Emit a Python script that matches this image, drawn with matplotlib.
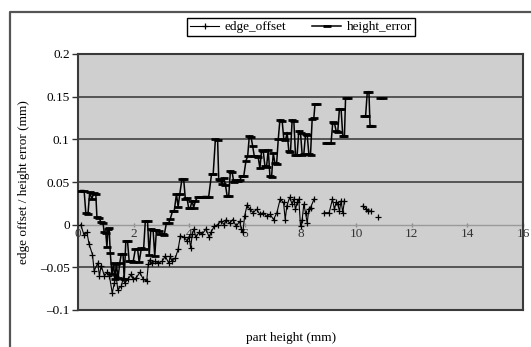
import numpy as np
import matplotlib
matplotlib.use("Agg")
import matplotlib.pyplot as plt
from matplotlib.lines import Line2D

plt.rcParams['font.family'] = ['Liberation Serif', 'DejaVu Serif']

nan = float('nan')

# ---------------- data ----------------
height_x = [0.10, 0.22, 0.28, 0.36, 0.42, 0.50, 0.56, 0.64, 0.68, 0.76, 0.82, 0.90, 0.94, 1.00,
            1.04, 1.08, 1.12, 1.16, 1.22, 1.28, 1.32, 1.38, 1.44, 1.50, 1.56, 1.62, 1.66, 1.72,
            1.78, 1.84, 1.92, 1.98, 2.06, 2.14, 2.20, 2.28, 2.36, 2.42, 2.50, 2.56, 2.62, 2.70,
            2.76, 2.82, 2.90, 2.96, 3.04, 3.10, 3.18, 3.26, 3.32, 3.40, 3.46, 3.54, 3.60, 3.66,
            3.74, 3.80, 3.86, 3.92, 3.98, 4.04, 4.10, 4.16, 4.22, 4.30, 4.40, 4.50, 4.60, 4.70,
            4.80, 4.86, 4.94, 5.02, 5.06, 5.12, 5.18, 5.24, 5.30, 5.36, 5.42, 5.48, 5.54, 5.60,
            5.66, 5.74, 5.82, 5.88, 5.96, 6.04, 6.10, 6.16, 6.22, 6.28, 6.34, 6.42, 6.48, 6.54,
            6.60, 6.66, 6.72, 6.78, 6.84, 6.90, 6.96, 7.02, 7.08, 7.14, 7.20, 7.26, 7.34, 7.40,
            7.46, 7.52, 7.58, 7.64, 7.70, 7.76, 7.82, 7.88, 7.94, 8.00, 8.06, 8.12, 8.18, 8.24,
            8.30, 8.36, 8.42, 8.48, 8.52, 8.60, 8.75,
            8.90, 9.00, 9.10, 9.16, 9.22, 9.28, 9.34, 9.40, 9.46, 9.52, 9.58, 9.62, 9.70, 10.0,
            10.28, 10.34, 10.40, 10.46, 10.50, 10.58, 10.70,
            10.86, 10.96]
height_error = [0.040, 0.040, 0.014, 0.013, 0.038, 0.030, 0.037, 0.036, 0.009, 0.008, 0.003, 0.002, -0.009, -0.010,
                -0.026, -0.005, -0.004, -0.033, -0.058, -0.045, -0.064, -0.046, -0.063, -0.045, -0.034, -0.034, -0.064, -0.019,
                -0.019, -0.043, -0.043, -0.044, -0.029, -0.028, -0.044, -0.027, -0.028, 0.004, 0.004, -0.036, -0.005, -0.006,
                -0.037, -0.006, -0.007, -0.011, -0.011, -0.012, 0.002, 0.002, 0.007, 0.016, 0.016, 0.036, 0.021, 0.036,
                0.054, 0.053, 0.030, 0.031, 0.019, 0.020, 0.028, 0.020, 0.028, 0.032, 0.032, 0.033, 0.033, 0.033,
                0.059, 0.059, 0.100, 0.099, 0.053, 0.052, 0.048, 0.055, 0.047, 0.034, 0.034, 0.063, 0.062, 0.050,
                0.052, 0.051, 0.052, 0.057, 0.057, 0.075, 0.080, 0.104, 0.103, 0.092, 0.080, 0.080, 0.079, 0.066,
                0.087, 0.086, 0.069, 0.068, 0.088, 0.057, 0.056, 0.084, 0.072, 0.071, 0.100, 0.123, 0.122, 0.100,
                0.099, 0.108, 0.086, 0.085, 0.123, 0.122, 0.082, 0.082, 0.110, 0.108, 0.082, 0.083, 0.106, 0.105,
                0.083, 0.082, 0.124, 0.125, 0.141, 0.141, nan,
                0.096, 0.096, 0.096, 0.120, 0.119, 0.110, 0.109, 0.136, 0.135, 0.104, 0.104, 0.148, 0.148, nan,
                0.127, 0.127, 0.155, 0.156, 0.116, 0.116, nan,
                0.148, 0.148]

edge_x = [0.10, 0.22, 0.32, 0.40, 0.52, 0.58, 0.71, 0.77, 0.83, 0.95, 1.05, 1.13, 1.23, 1.31, 1.37,
          1.43, 1.56, 1.62, 1.68, 1.80, 1.92, 1.98, 2.10, 2.22, 2.35, 2.47, 2.53, 2.59, 2.65, 2.77,
          2.89, 3.02, 3.14, 3.26, 3.32, 3.38, 3.50, 3.60, 3.68, 3.81, 3.93, 3.99, 4.05, 4.11, 4.17,
          4.23, 4.35, 4.47, 4.60, 4.72, 4.78, 4.90, 5.02, 5.14, 5.26, 5.33, 5.45, 5.57, 5.69, 5.81,
          5.87, 5.93, 5.99, 6.08, 6.18, 6.30, 6.42, 6.54, 6.66, 6.78, 6.91, 7.03, 7.15, 7.27, 7.39,
          7.45, 7.51, 7.61, 7.70, 7.76, 7.82, 7.88, 7.94, 8.00, 8.06, 8.12, 8.18, 8.24, 8.30, 8.36,
          8.49, 8.70,
          8.85, 9.03, 9.15, 9.22, 9.28, 9.34, 9.40, 9.46, 9.52, 9.58, 9.90,
          10.25, 10.37, 10.43, 10.55, 10.70,
          10.80]
edge_offset = [0.000, -0.0125, -0.009, -0.023, -0.035, -0.054, -0.045, -0.060, -0.048, -0.060, -0.056, -0.060, -0.080, -0.068, -0.060,
               -0.076, -0.072, -0.063, -0.068, -0.064, -0.058, -0.064, -0.062, -0.056, -0.064, -0.066, -0.046, -0.041, -0.045, -0.043,
               -0.045, -0.043, -0.037, -0.045, -0.037, -0.043, -0.039, -0.029, -0.013, -0.015, -0.019, -0.014, -0.027, -0.011, -0.005,
               -0.015, -0.009, -0.011, -0.005, -0.015, -0.009, -0.002, 0.000, 0.004, 0.000, 0.006, 0.002, 0.006, -0.002, 0.004,
               -0.005, -0.009, 0.010, 0.023, 0.018, 0.014, 0.018, 0.012, 0.014, 0.010, 0.012, 0.006, 0.014, 0.030, 0.026,
               0.006, 0.022, 0.032, 0.024, 0.030, 0.018, 0.026, 0.030, -0.002, 0.006, 0.024, 0.014, 0.002, 0.018, 0.020,
               0.030, nan,
               0.014, 0.014, 0.030, 0.018, 0.026, 0.024, 0.016, 0.028, 0.014, 0.028, nan,
               0.022, 0.018, 0.016, 0.016, nan,
               0.009]

x_ticks = [0, 2, 4, 6, 8, 10, 12, 14, 16]
x_tick_labels = ['0', '2', '4', '6', '8', '10', '12', '14', '16']
y_ticks = [-0.1, -0.05, 0, 0.05, 0.1, 0.15, 0.2]
y_tick_labels = ['\u20130.1', '\u20130.05', '0', '0.05', '0.1', '0.15', '0.2']
grid_levels = [-0.05, 0.05, 0.1, 0.15]

# ---------------- figure ----------------
W, H = 531, 347
fig = plt.figure(figsize=(W / 100, H / 100), dpi=100)
fig.patch.set_facecolor('white')

# outer chart border (clipped at right / bottom like the reference)
fig.add_artist(Line2D([10 / W, 10 / W, 1.0], [0.0, 1 - 12 / H, 1 - 12 / H],
                      transform=fig.transFigure, color='#555555', lw=1.6))

L, R, T, B = 78, 523, 54, 310
ax = fig.add_axes([L / W, 1 - B / H, (R - L) / W, (B - T) / H])
ax.set_facecolor('#cfcfcf')
ax.set_xlim(0, 16)
ax.set_ylim(-0.1, 0.2)

for s in ax.spines.values():
    s.set_color('#3a3a3a')
    s.set_linewidth(1.5)

for g in grid_levels:
    ax.axhline(g, color='#555555', lw=1.4, zorder=1)

# primary x axis: no ticks (frame only)
ax.set_xticks([])

# y axis
ax.set_yticks(y_ticks)
ax.set_yticklabels(y_tick_labels, fontsize=9.5)
ax.tick_params(axis='y', direction='out', length=4, width=1, color='#333333', pad=2)

# x axis crossing at y = 0
sec = ax.secondary_xaxis(1 / 3)
sec.set_xticks(x_ticks)
sec.set_xticklabels(x_tick_labels, fontsize=9.5, color='#333333')
sec.tick_params(axis='x', direction='inout', length=3, width=1, color='#888888', pad=1)
sec.spines['bottom'].set_color('#9a9a9a')
sec.spines['bottom'].set_linewidth(1.0)

# series
ax.plot(edge_x, edge_offset, color='black', lw=0.8, marker='+', ms=5, mew=0.9,
        label='edge_offset', zorder=3)
ax.plot(height_x, height_error, color='black', lw=1.1, marker='_', ms=6, mew=2.0,
        label='height_error', zorder=4)

ax.set_xlabel('part height (mm)', fontsize=9.5)
ax.xaxis.set_label_coords((291 - L) / (R - L), (B - 332) / (B - T))
ax.set_ylabel('edge offset / height error (mm)', fontsize=9.5)
ax.yaxis.set_label_coords((30 - L) / (R - L), 0.5)

leg = fig.legend(loc='center', bbox_to_anchor=(301 / W, 1 - 27 / H), ncol=2,
                 fontsize=9.5, frameon=True, fancybox=False, framealpha=1,
                 edgecolor='black', borderpad=0.25, handlelength=2.2,
                 columnspacing=2.0, handletextpad=0.4)
leg.get_frame().set_linewidth(1.0)

fig.savefig('out.png', dpi=100)
